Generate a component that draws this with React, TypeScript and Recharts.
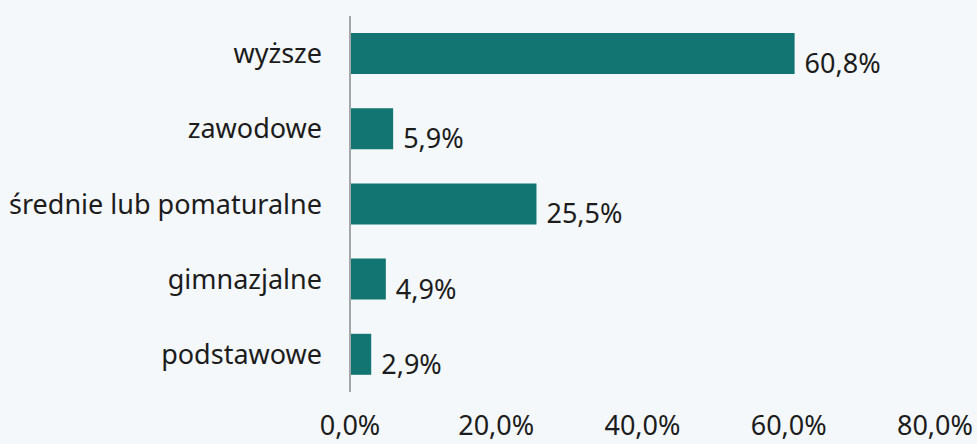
import { BarChart, Bar, XAxis, YAxis, LabelList } from "recharts";

const categories = ["wyższe", "zawodowe", "średnie lub pomaturalne", "gimnazjalne", "podstawowe"];
const shares = [60.8, 5.9, 25.5, 4.9, 2.9];
const xTicks = [0, 20, 40, 60, 80];

const data = categories.map((name, i) => ({ name, value: shares[i] }));

const fmt = (v: number) => v.toFixed(1).replace(".", ",") + "%";

const FONT = "'Noto Sans', sans-serif";
const SIZE = 27;

export default function App() {
  return (
    <div style={{ position: "absolute", left: 0, top: 0, width: 977, height: 444, background: "#f4f8fa" }}>
      <BarChart
        width={977}
        height={444}
        data={data}
        layout="vertical"
        margin={{ top: 16, right: 42, bottom: 0, left: 0 }}
        barCategoryGap={17}
      >
        <XAxis
          type="number"
          domain={[0, 80]}
          ticks={xTicks}
          tickFormatter={fmt}
          axisLine={false}
          tickLine={false}
          tickSize={0}
          tickMargin={24}
          height={52}
          interval={0}
          tick={{ fontSize: SIZE, fill: "#1c1c1c", fontFamily: FONT }}
        />
        <YAxis
          type="category"
          dataKey="name"
          width={350}
          axisLine={{ stroke: "#a3a6a8", strokeWidth: 2 }}
          tickLine={false}
          tickSize={0}
          tickMargin={28}
          interval={0}
          tick={{ fontSize: SIZE, fill: "#1c1c1c", fontFamily: FONT }}
        />
        <Bar dataKey="value" fill="#137571" isAnimationActive={false}>
          <LabelList
            dataKey="value"
            position="right"
            offset={10}
            formatter={(v: any) => fmt(Number(v))}
            style={{ fontSize: SIZE, fill: "#1c1c1c", fontFamily: FONT }}
            dy={10}
          />
        </Bar>
      </BarChart>
    </div>
  );
}
